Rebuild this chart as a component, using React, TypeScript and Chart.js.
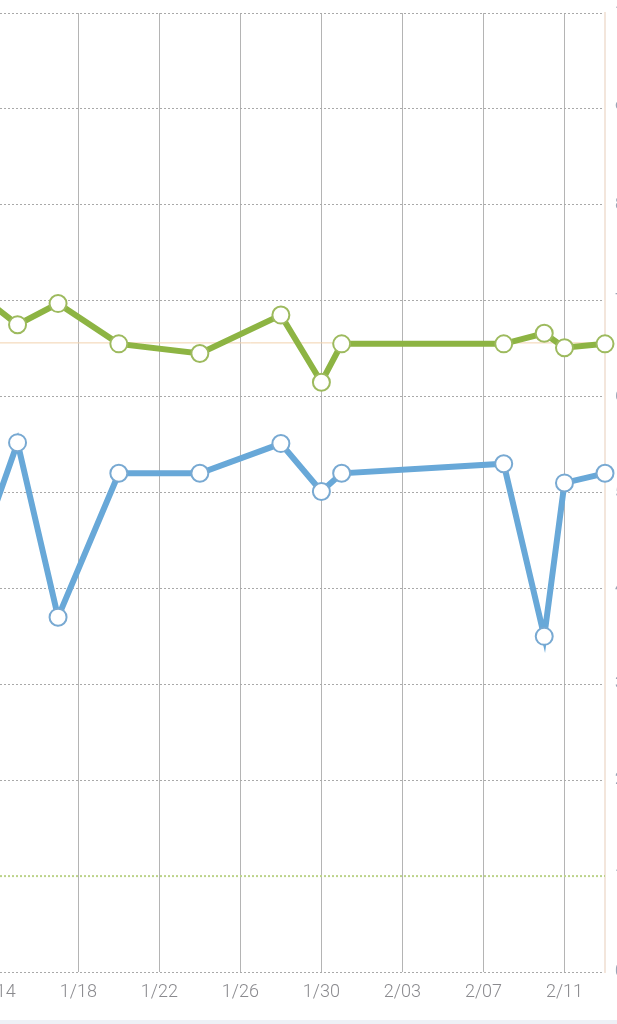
import React, { useEffect, useRef } from "react";
import { Chart, registerables } from "chart.js";

Chart.register(...registerables);

// ---- data ----
const pointDates = ["1/13", "1/15", "1/17", "1/20", "1/24", "1/28", "1/30", "1/31", "2/08", "2/10", "2/11", "2/13"];
const greenValues = [70.8, 67.5, 69.7, 65.5, 64.5, 68.5, 61.5, 65.5, 65.5, 66.6, 65.1, 65.5];
const blueValues = [43.2, 55.2, 37.0, 52.0, 52.0, 55.1, 50.1, 52.0, 53.0, 35.0, 51.0, 52.0];
const tickDates = ["1/14", "1/18", "1/22", "1/26", "1/30", "2/03", "2/07", "2/11"];
const tickLabels = ["1/14", "1/18", "1/22", "1/26", "1/30", "2/03", "2/07", "2/11"];
const yTickValues = [0, 10, 20, 30, 40, 50, 60, 70, 80, 90, 100];
const orangeRefValue = 65.6;
const greenRefValue = 10;
const xStartDate = "1/09";
const xEndDate = "2/13";

function dayOf(s: string): number {
  const [m, d] = s.split("/").map(Number);
  return (m === 1 ? 0 : 31) + d;
}

const GREEN = "#8db443";
const GREEN_PT = "#9dba5e";
const BLUE = "#68a8d8";
const BLUE_PT = "#78a9d2";

export default function App() {
  const ref = useRef<HTMLCanvasElement | null>(null);

  useEffect(() => {
    const canvas = ref.current;
    if (!canvas) return;
    const xMin = dayOf(xStartDate);
    const xMax = dayOf(xEndDate);
    const greenData = pointDates.map((d, i) => ({ x: dayOf(d), y: greenValues[i] }));
    const blueData = pointDates.map((d, i) => ({ x: dayOf(d), y: blueValues[i] }));
    const tickDays = tickDates.map(dayOf);

    const chart = new Chart(canvas, {
      type: "line",
      data: {
        datasets: [
          {
            data: greenData,
            borderColor: GREEN,
            borderWidth: 6,
            pointRadius: 8.5,
            pointBorderWidth: 2,
            pointBackgroundColor: "#ffffff",
            pointBorderColor: GREEN_PT,
            tension: 0,
            clip: false as any,
          },
          {
            data: blueData,
            borderColor: BLUE,
            borderWidth: 6,
            pointRadius: 8.5,
            pointBorderWidth: 2,
            pointBackgroundColor: "#ffffff",
            pointBorderColor: BLUE_PT,
            tension: 0,
            clip: false as any,
          },
          {
            data: [
              { x: xMin, y: orangeRefValue },
              { x: xMax, y: orangeRefValue },
            ],
            borderColor: "#f2d2ae",
            borderWidth: 1,
            pointRadius: 0,
          },
          {
            data: [
              { x: xMin, y: greenRefValue },
              { x: xMax, y: greenRefValue },
            ],
            borderColor: "#bcd38a",
            borderWidth: 2,
            borderDash: [2, 2],
            pointRadius: 0,
          },
        ],
      },
      options: {
        responsive: false,
        animation: false,
        devicePixelRatio: 1,
        layout: { autoPadding: false, padding: { top: 13, left: 0, right: 0, bottom: 0 } },
        plugins: { legend: { display: false }, tooltip: { enabled: false } },
        scales: {
          x: {
            type: "linear",
            min: xMin,
            max: xMax,
            afterBuildTicks: (s: any) => {
              s.ticks = tickDays.map((v) => ({ value: v }));
            },
            afterFit: (s: any) => {
              s.paddingLeft = 0;
              s.paddingRight = 0;
              s.height = 48;
            },
            ticks: {
              autoSkip: false,
              maxRotation: 0,
              minRotation: 0,
              padding: 10,
              color: "#8a8a8e",
              font: { family: "Roboto", size: 18, weight: "300" },
              callback: (_v: any, i: number) => tickLabels[i],
            },
            grid: { color: "#b4b4b4", lineWidth: 1, drawTicks: false },
            border: { display: false },
          },
          y: {
            position: "right",
            min: 0,
            max: 100,
            afterBuildTicks: (s: any) => {
              s.ticks = yTickValues.map((v) => ({ value: v }));
            },
            afterFit: (s: any) => {
              s.width = 12;
              s.paddingTop = 0;
              s.paddingBottom = 0;
            },
            ticks: {
              padding: 10,
              color: "#9aa6b8",
              font: { family: "Roboto", size: 16 },
            },
            grid: { color: "#a9a9a9", lineWidth: 1, drawTicks: false },
            border: { display: true, color: "#f3e6dc", width: 2, dash: [2, 2] },
          },
        },
      } as any,
    });
    return () => chart.destroy();
  }, []);

  return (
    <div
      style={{
        position: "fixed",
        left: 0,
        top: 0,
        width: 617,
        height: 1024,
        overflow: "hidden",
        background: "#ffffff",
      }}
    >
      <canvas
        ref={ref}
        width={721}
        height={1020}
        style={{ position: "absolute", left: -104, top: 0, width: 721, height: 1020, display: "block" }}
      />
      <div
        style={{ position: "absolute", left: 0, top: 1020, width: 617, height: 4, background: "#eef0f6" }}
      />
    </div>
  );
}
